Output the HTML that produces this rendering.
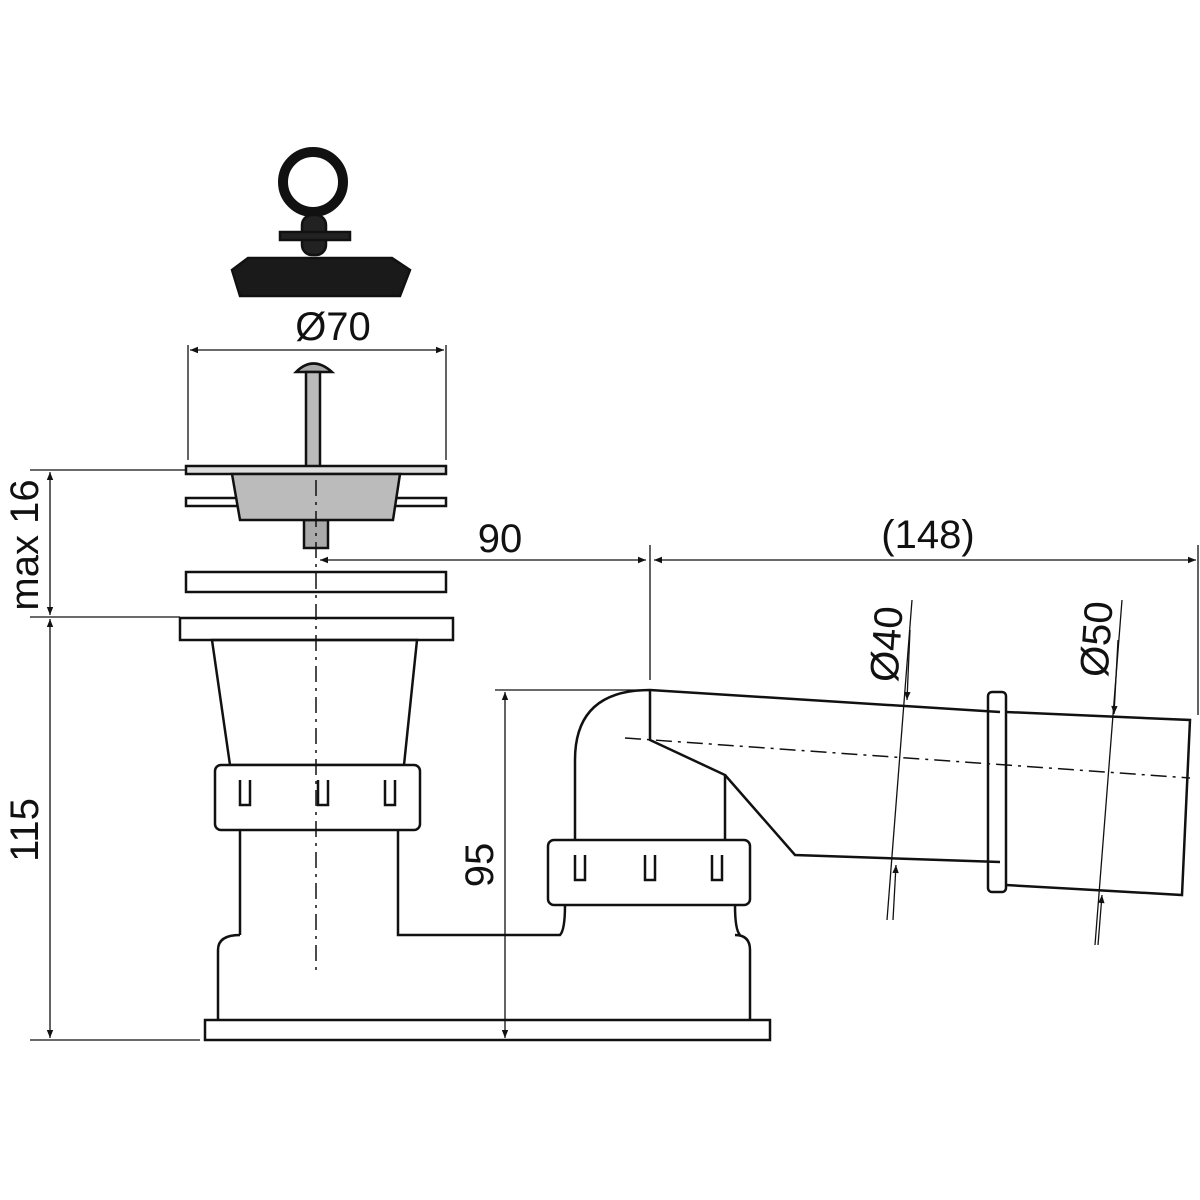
<!DOCTYPE html>
<html><head><meta charset="utf-8"><style>html,body{margin:0;background:#fff}svg{display:block}</style></head><body>
<svg width="1200" height="1200" viewBox="0 0 1200 1200" xmlns="http://www.w3.org/2000/svg" font-family="Liberation Sans, sans-serif">
<defs>
<marker id="a" viewBox="0 0 10 10" refX="10" refY="5" markerWidth="12" markerHeight="8" orient="auto-start-reverse" markerUnits="userSpaceOnUse"><path d="M0,1 L10,5 L0,9z" fill="#111"/></marker>
</defs>
<g stroke="#111" stroke-width="2.5" fill="none">
<circle cx="313" cy="182" r="30" stroke-width="10"/>
<rect x="302" y="215" width="24" height="40" rx="10" fill="#222"/>
<rect x="280" y="232" width="70" height="8" fill="#222"/>
<path d="M248,258 L392,258 L410,270 L400,296 L240,296 L232,270z" fill="#1a1a1a"/>
<path d="M296,372 Q313,355 332,372z" fill="#aaa"/>
<rect x="306" y="372" width="14" height="100" fill="#bbb"/>
<rect x="304" y="520" width="24" height="28" fill="#aaa"/>
<rect x="186" y="466" width="260" height="8" fill="#ddd"/>
<rect x="186" y="498" width="260" height="8" fill="#fff"/>
<path d="M232,474 L400,474 L393,520 L240,520z" fill="#bbb"/>
<rect x="186" y="572" width="260" height="20"/>
<rect x="180" y="618" width="273" height="22"/>
<path d="M212,640 L417,640 L404,765 L230,765z"/>
<rect x="215" y="765" width="205" height="65" rx="6" fill="#fff"/>
<path d="M240,780 v25 h10 v-25 M318,780 v25 h10 v-25 M385,780 v25 h10 v-25"/>
<path d="M240,830 L240,935 M398,830 L398,935 L560,935 Q565,930 565,905 M735,905 Q735,930 740,935"/>
<path d="M218,1020 L218,950 Q218,935 240,935 M750,1020 L750,950 Q750,935 735,935"/>
<rect x="205" y="1020" width="565" height="20"/>
<rect x="548" y="840" width="202" height="65" rx="6" fill="#fff"/>
<path d="M575,855 v25 h10 v-25 M645,855 v25 h10 v-25 M712,855 v25 h10 v-25"/>
<path d="M575,840 L575,760 Q575,690 650,690 L1000,712"/>
<path d="M725,840 L725,775 L650,740 L650,690"/>
<path d="M725,775 L795,855 L1000,862"/>
<rect x="988" y="692" width="18" height="200" rx="4"/>
<path d="M1006,712 L1190,720 L1182,895 L1006,885"/>
</g>
<g stroke="#111" stroke-width="1.5" stroke-dasharray="16,6,3,6" fill="none">
<path d="M316,480 V975"/>
<path d="M625,738 L1190,778"/>
</g>
<g stroke="#111" stroke-width="1.3" fill="none">
<path d="M188,345 V460 M446,345 V460"/>
<path d="M190,350 H444" marker-start="url(#a)" marker-end="url(#a)"/>
<path d="M30,470 H186 M30,617 H180 M30,1040 H200"/>
<path d="M50,472 V615" marker-start="url(#a)" marker-end="url(#a)"/>
<path d="M50,619 V1038" marker-start="url(#a)" marker-end="url(#a)"/>
<path d="M320,560 H646" marker-start="url(#a)" marker-end="url(#a)"/>
<path d="M650,545 V680 M1198,545 V715"/>
<path d="M654,560 H1196" marker-start="url(#a)" marker-end="url(#a)"/>
<path d="M495,690 H640"/>
<path d="M505,692 V1038" marker-start="url(#a)" marker-end="url(#a)"/>
<path d="M912,600 L887,920"/>
<path d="M910,630 L907,700" marker-end="url(#a)"/>
<path d="M893,920 L896,865" marker-end="url(#a)"/>
<path d="M1122,600 L1095,945"/>
<path d="M1118,640 L1114,714" marker-end="url(#a)"/>
<path d="M1098,945 L1102,895" marker-end="url(#a)"/>
</g>
<g fill="#111" font-size="40">
<text x="333" y="340" text-anchor="middle">Ø70</text>
<text x="500" y="552" text-anchor="middle">90</text>
<text x="928" y="548" text-anchor="middle">(148)</text>
<text transform="translate(38,545) rotate(-90)" text-anchor="middle">max 16</text>
<text transform="translate(38,830) rotate(-90)" text-anchor="middle">115</text>
<text transform="translate(493,865) rotate(-90)" text-anchor="middle">95</text>
<text transform="translate(900,645) rotate(-86)" text-anchor="middle">Ø40</text>
<text transform="translate(1110,640) rotate(-86)" text-anchor="middle">Ø50</text>
</g>
</svg>
</body></html>
